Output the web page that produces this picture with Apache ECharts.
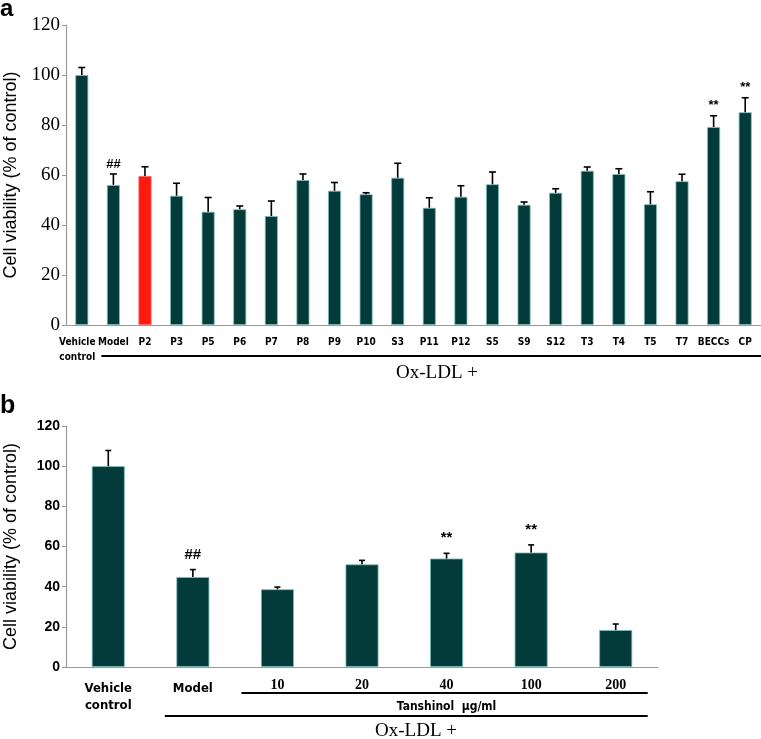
<!DOCTYPE html>
<html><head><meta charset="utf-8">
<script src="https://cdn.jsdelivr.net/npm/echarts@6/dist/echarts.min.js"></script>
<style>html,body{margin:0;padding:0;background:#fff}#c{width:761px;height:739px}</style>
</head><body><div id="c"></div>
<script>
// Panel a data
const catsA = ['Vehicle\ncontrol','Model','P2','P3','P5','P6','P7','P8','P9','P10','S3','P11','P12','S5','S9','S12','T3','T4','T5','T7','BECCs','CP'];
const valsA = [100,56,59.6,51.7,45.3,46.3,43.6,58,53.7,52.3,58.9,46.9,51.3,56.3,48.1,52.9,61.7,60.4,48.3,57.5,79.2,85.1];
const errA  = [3,4.4,3.7,5,5.7,1.3,6,2.4,3.3,0.6,5.8,4,4.4,4.9,1.1,1.6,1.5,2.1,5,2.8,4.5,5.8];
const marksA = ['','##','','','','','','','','','','','','','','','','','','','**','**'];
const highlightA = 2;
// Panel b data
const catsB = ['Vehicle\ncontrol','Model','10','20','40','100','200'];
const valsB = [100,44.8,38.7,51.1,54,57,18.4];
const errB  = [7.8,3.7,1.1,2,2.6,3.8,3];
const marksB = ['','##','','','**','**',''];
const yTicks = [0,20,40,60,80,100,120];

const BAR = '#033b3a', EDGE = '#7fbfbf';
const narrow = "'Liberation Sans Narrow','DejaVu Sans Condensed','Liberation Sans',sans-serif";
const serif = "'Liberation Serif','DejaVu Serif',serif";
const sans = "'Liberation Sans',Arial,sans-serif";

function errSeries(xi, yi, vals, errs, marks, cap, off, fs){
  return {
    type:'custom', xAxisIndex:xi, yAxisIndex:yi, z:5,
    data: vals.map((v,i)=>[i, v, errs[i]]),
    renderItem(params, api){
      const i = api.value(0), v = api.value(1), e = api.value(2);
      const p0 = api.coord([i, v]), p1 = api.coord([i, v+e]);
      const ch = [
        {type:'line', shape:{x1:p0[0],y1:p0[1],x2:p1[0],y2:p1[1]}, style:{stroke:'#000',lineWidth:1.6}},
        {type:'line', shape:{x1:p1[0]-cap,y1:p1[1],x2:p1[0]+cap,y2:p1[1]}, style:{stroke:'#000',lineWidth:1.6}}
      ];
      const m = marks[params.dataIndex];
      if (m) ch.push({type:'text', style:{text:m, x:p1[0], y:p1[1]-off, align:'center', verticalAlign:'middle', font:'bold '+fs+'px '+sans, fill:'#000'}});
      return {type:'group', children:ch};
    }
  };
}

const chart = echarts.init(document.getElementById('c'), null, {renderer:'canvas'});
const yAxisCommon = (fam, fs, fw, nameFs, gap) => ({
  type:'value', min:0, max:120, interval:20,
  axisLine:{show:true, lineStyle:{color:'#999', width:1.2}},
  axisTick:{show:true, length:4, lineStyle:{color:'#999'}},
  splitLine:{show:false},
  axisLabel:{color:'#000', fontFamily:fam, fontSize:fs, fontWeight:fw, margin:6,
    formatter: v => yTicks.includes(v) ? String(v) : ''},
  name:'Cell viability (% of control)', nameLocation:'middle', nameGap:gap,
  nameTextStyle:{color:'#000', fontFamily:sans, fontSize:nameFs}
});

chart.setOption({
  animation:false,
  grid:[
    {left:66, top:25, width:695, height:300, outerBoundsMode:'none', containLabel:false},
    {left:66, top:426, width:592, height:241, outerBoundsMode:'none', containLabel:false}
  ],
  xAxis:[
    {type:'category', gridIndex:0, data:catsA,
     axisLine:{lineStyle:{color:'#999', width:1.2}}, axisTick:{show:false},
     axisLabel:{interval:0, color:'#000', margin:10,
       formatter:(v,i)=> i===0 ? '{v|'+v.replace('\n','}\n{v|')+'}' : '{c|'+v+'}',
       rich:{
         v:{fontFamily:narrow, fontWeight:'bold', fontSize:10, lineHeight:15, padding:[0,9,0,0]},
         c:{fontFamily:narrow, fontWeight:'bold', fontSize:10, lineHeight:15}
       }}},
    {type:'category', gridIndex:1, data:catsB,
     axisLine:{lineStyle:{color:'#999', width:1.2}}, axisTick:{show:false},
     axisLabel:{interval:0, color:'#000', margin:11,
       formatter:(v,i)=> i<2 ? '{t|'+v.replace('\n','}\n{t|')+'}' : '{n|'+v+'}',
       rich:{
         t:{fontFamily:narrow, fontWeight:'bold', fontSize:13, lineHeight:17, padding:[4,0,0,0]},
         n:{fontFamily:serif, fontWeight:'bold', fontSize:14, lineHeight:14}
       }}}
  ],
  yAxis:[
    Object.assign(yAxisCommon(serif, 19, 'normal', 18, 46), {gridIndex:0}),
    Object.assign(yAxisCommon(sans, 14, 'bold', 18, 46), {gridIndex:1})
  ],
  series:[
    {type:'bar', xAxisIndex:0, yAxisIndex:0, barWidth:13,
     data: valsA.map((v,i)=>({value:v, itemStyle:{color: i===highlightA ? '#ff1a0d' : BAR, borderColor: i===highlightA ? '#ff6060' : EDGE}})),
     itemStyle:{borderWidth:0.8}},
    errSeries(0,0,valsA,errA,marksA,3.5,10,13),
    {type:'bar', xAxisIndex:1, yAxisIndex:1, barWidth:33,
     data: valsB, itemStyle:{color:BAR, borderColor:EDGE, borderWidth:0.8}},
    errSeries(1,1,valsB,errB,marksB,3,15,15)
  ]
});

// annotation lines and group labels, positioned from axis scales
const xa = i => chart.convertToPixel({xAxisIndex:0}, i);
const xb = i => chart.convertToPixel({xAxisIndex:1}, i);
const ya = v => chart.convertToPixel({yAxisIndex:0}, v);
const yb = v => chart.convertToPixel({yAxisIndex:1}, v);
const a0 = ya(0), b0 = yb(0);
const g = [];
g.push({type:'text', left:0, top:-3, style:{text:'a', font:'bold 24px '+sans, fill:'#000'}});
g.push({type:'text', left:0, top:394, style:{text:'b', font:'bold 25px '+sans, fill:'#000'}});
// panel a
g.push({type:'line', shape:{x1:xa(1)-12, y1:a0+31, x2:761, y2:a0+31}, style:{stroke:'#000', lineWidth:2.2}});
g.push({type:'text', x:437, y:a0+48, style:{text:'Ox-LDL +', font:'19px '+serif, fill:'#000', align:'center', verticalAlign:'middle'}});
// panel b
g.push({type:'line', shape:{x1:xb(2)-36, y1:b0+26, x2:xb(6)+32, y2:b0+26}, style:{stroke:'#000', lineWidth:2}});
g.push({type:'text', x:xb(4), y:b0+40, style:{text:'Tanshinol  μg/ml', font:'bold 12px '+narrow, fill:'#000', align:'center', verticalAlign:'middle'}});
g.push({type:'line', shape:{x1:xb(1)-28, y1:b0+49, x2:xb(6)+32, y2:b0+49}, style:{stroke:'#000', lineWidth:2}});
g.push({type:'text', x:416, y:b0+64, style:{text:'Ox-LDL +', font:'19px '+serif, fill:'#000', align:'center', verticalAlign:'middle'}});
chart.setOption({graphic:g});
</script></body></html>
